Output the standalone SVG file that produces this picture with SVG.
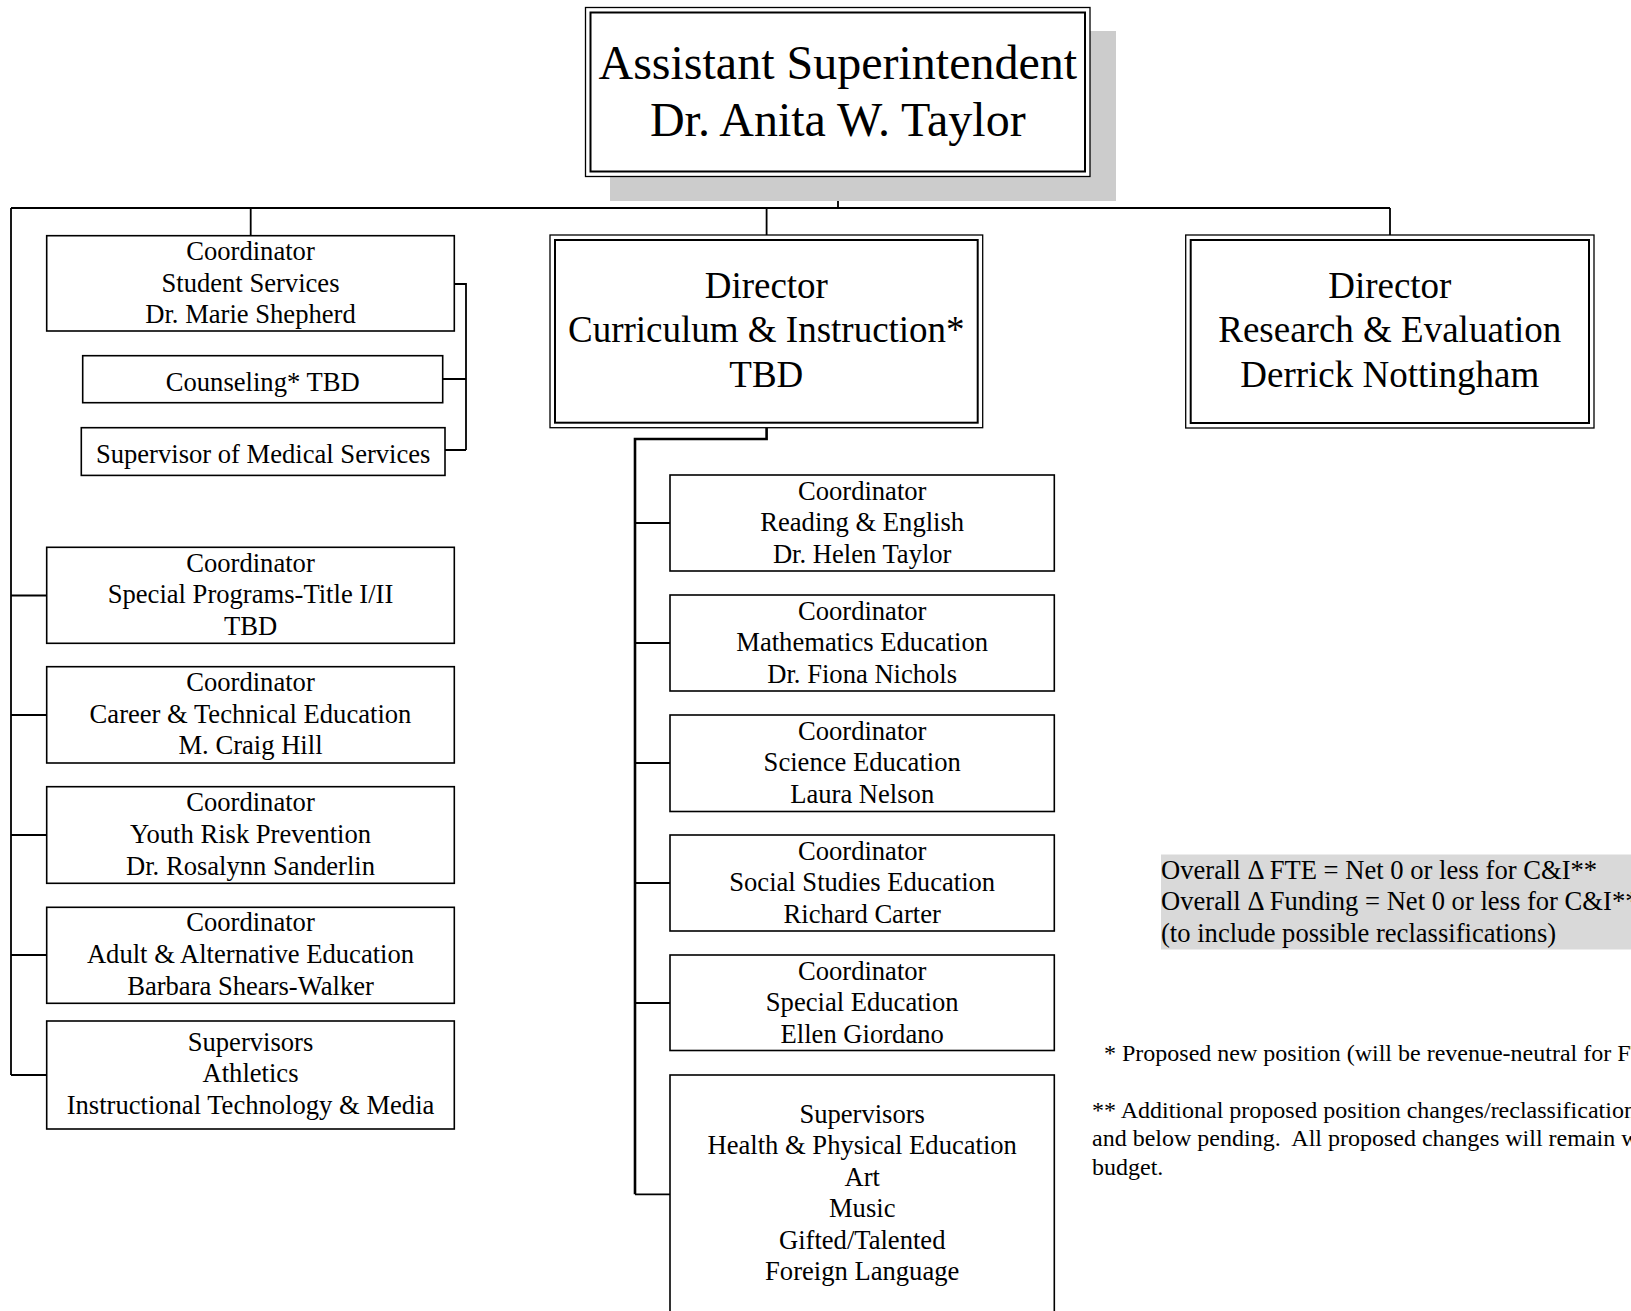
<svg xmlns="http://www.w3.org/2000/svg" width="1631" height="1311" viewBox="0 0 1631 1311">
<style>
text{font-family:"Liberation Serif","Times New Roman",serif;fill:#000;}
.t48{font-size:48px;text-anchor:middle;}
.t37{font-size:37px;text-anchor:middle;}
.t26{font-size:26.6px;text-anchor:middle;}
.note{font-size:26.6px;}
.foot{font-size:24px;white-space:pre;}
.box{fill:#fff;stroke:#000;stroke-width:1.6;}
.outer{fill:#fff;stroke:#000;stroke-width:1.3;}
.inner{fill:none;stroke:#000;stroke-width:2;}
.ln{fill:none;stroke:#000;stroke-width:1.8;}
.thick{fill:none;stroke:#000;stroke-width:2.6;}
</style>
<rect x="0" y="0" width="1631" height="1311" fill="#fff"/>

<g id="connectors">
<path class="ln" d="M838,176.5V208M11,208H1390M11,208V1075M250.7,208V235.7M766.6,208V235M1390,208V235"/>
<path class="ln" d="M11,595.5H46.7M11,715H46.7M11,835H46.7M11,955H46.7M11,1075H46.7"/>
<path class="ln" d="M454.3,284H466V450M442.7,379H466M445,450H466"/>
<path class="thick" d="M766.6,427.7V439H635V1194.3"/>
<path class="ln" d="M635,523H670M635,643H670M635,763H670M635,883H670M635,1003H670M635,1194.3H670"/>
</g>

<g id="asst-supt">
<rect x="610" y="31" width="506" height="170" fill="#cccccc"/>
<rect class="outer" x="585.5" y="7.5" width="504.5" height="169"/>
<rect class="inner" x="590.5" y="12.5" width="494.5" height="159"/>
<text class="t48" x="837.8" y="79">Assistant Superintendent</text>
<text class="t48" x="837.8" y="136">Dr. Anita W. Taylor</text>
</g>

<g id="dir-ci">
<rect class="outer" x="550" y="235" width="432.7" height="192.7"/>
<rect class="inner" x="555" y="240" width="422.7" height="182.7"/>
<text class="t37" x="766.3" y="298">Director</text>
<text class="t37" x="766.3" y="341.7">Curriculum &amp; Instruction*</text>
<text class="t37" x="766.3" y="386.7">TBD</text>
</g>

<g id="dir-re">
<rect class="outer" x="1185.7" y="235" width="408.3" height="193"/>
<rect class="inner" x="1190.7" y="240" width="398.3" height="183"/>
<text class="t37" x="1389.8" y="298">Director</text>
<text class="t37" x="1389.8" y="341.7">Research &amp; Evaluation</text>
<text class="t37" x="1389.8" y="386.7">Derrick Nottingham</text>
</g>

<g id="student-services">
<rect class="box" x="46.7" y="235.7" width="407.6" height="95.3"/>
<text class="t26" x="250.5" y="260">Coordinator</text>
<text class="t26" x="250.5" y="291.7">Student Services</text>
<text class="t26" x="250.5" y="323.3">Dr. Marie Shepherd</text>
</g>

<g id="counseling">
<rect class="box" x="82.7" y="355.7" width="360" height="47"/>
<text class="t26" x="262.7" y="391.3">Counseling* TBD</text>
</g>

<g id="medical">
<rect class="box" x="81.3" y="427.7" width="363.7" height="47.7"/>
<text class="t26" x="263.2" y="463.3">Supervisor of Medical Services</text>
</g>

<g id="special-programs">
<rect class="box" x="46.7" y="547.3" width="407.6" height="96"/>
<text class="t26" x="250.5" y="571.5">Coordinator</text>
<text class="t26" x="250.5" y="603.3">Special Programs-Title I/II</text>
<text class="t26" x="250.5" y="635">TBD</text>
</g>

<g id="career-tech">
<rect class="box" x="46.7" y="666.7" width="407.6" height="96.3"/>
<text class="t26" x="250.5" y="691">Coordinator</text>
<text class="t26" x="250.5" y="722.7">Career &amp; Technical Education</text>
<text class="t26" x="250.5" y="754.3">M. Craig Hill</text>
</g>

<g id="youth-risk">
<rect class="box" x="46.7" y="786.7" width="407.6" height="96.6"/>
<text class="t26" x="250.5" y="811">Coordinator</text>
<text class="t26" x="250.5" y="842.7">Youth Risk Prevention</text>
<text class="t26" x="250.5" y="874.7">Dr. Rosalynn Sanderlin</text>
</g>

<g id="adult-alt">
<rect class="box" x="46.7" y="907.3" width="407.6" height="96"/>
<text class="t26" x="250.5" y="931">Coordinator</text>
<text class="t26" x="250.5" y="962.8">Adult &amp; Alternative Education</text>
<text class="t26" x="250.5" y="994.6">Barbara Shears-Walker</text>
</g>

<g id="athletics">
<rect class="box" x="46.7" y="1021" width="407.6" height="108"/>
<text class="t26" x="250.5" y="1050.7">Supervisors</text>
<text class="t26" x="250.5" y="1082.3">Athletics</text>
<text class="t26" x="250.5" y="1114">Instructional Technology &amp; Media</text>
</g>

<g id="reading">
<rect class="box" x="670" y="475" width="384.3" height="96"/>
<text class="t26" x="862.2" y="499.5">Coordinator</text>
<text class="t26" x="862.2" y="531.3">Reading &amp; English</text>
<text class="t26" x="862.2" y="563">Dr. Helen Taylor</text>
</g>

<g id="math">
<rect class="box" x="670" y="595" width="384.3" height="96"/>
<text class="t26" x="862.2" y="619.5">Coordinator</text>
<text class="t26" x="862.2" y="651.3">Mathematics Education</text>
<text class="t26" x="862.2" y="683">Dr. Fiona Nichols</text>
</g>

<g id="science">
<rect class="box" x="670" y="715" width="384.3" height="96.5"/>
<text class="t26" x="862.2" y="739.5">Coordinator</text>
<text class="t26" x="862.2" y="771.3">Science Education</text>
<text class="t26" x="862.2" y="803">Laura Nelson</text>
</g>

<g id="social-studies">
<rect class="box" x="670" y="835" width="384.3" height="96"/>
<text class="t26" x="862.2" y="859.5">Coordinator</text>
<text class="t26" x="862.2" y="891.3">Social Studies Education</text>
<text class="t26" x="862.2" y="923">Richard Carter</text>
</g>

<g id="special-ed">
<rect class="box" x="670" y="955" width="384.3" height="95.5"/>
<text class="t26" x="862.2" y="979.5">Coordinator</text>
<text class="t26" x="862.2" y="1011.3">Special Education</text>
<text class="t26" x="862.2" y="1043">Ellen Giordano</text>
</g>

<g id="supervisors-ci">
<rect class="box" x="670" y="1075" width="384.3" height="260"/>
<text class="t26" x="862.2" y="1122.5">Supervisors</text>
<text class="t26" x="862.2" y="1154">Health &amp; Physical Education</text>
<text class="t26" x="862.2" y="1185.5">Art</text>
<text class="t26" x="862.2" y="1217">Music</text>
<text class="t26" x="862.2" y="1248.5">Gifted/Talented</text>
<text class="t26" x="862.2" y="1280">Foreign Language</text>
</g>

<g id="summary-note">
<rect x="1161" y="854.5" width="475" height="95" fill="#d9d9d9"/>
<text class="note" x="1161" y="878.5">Overall Δ FTE = Net 0 or less for C&amp;I**</text>
<text class="note" x="1161" y="910">Overall Δ Funding = Net 0 or less for C&amp;I**</text>
<text class="note" x="1161" y="941.5">(to include possible reclassifications)</text>
</g>

<g id="footnotes">
<text class="foot" x="1104" y="1060.7">* Proposed new position (will be revenue-neutral for FT</text>
<text class="foot" x="1092" y="1117.5">** Additional proposed position changes/reclassification</text>
<text class="foot" x="1092" y="1146">and below pending.  All proposed changes will remain w</text>
<text class="foot" x="1092" y="1175">budget.</text>
</g>
</svg>
